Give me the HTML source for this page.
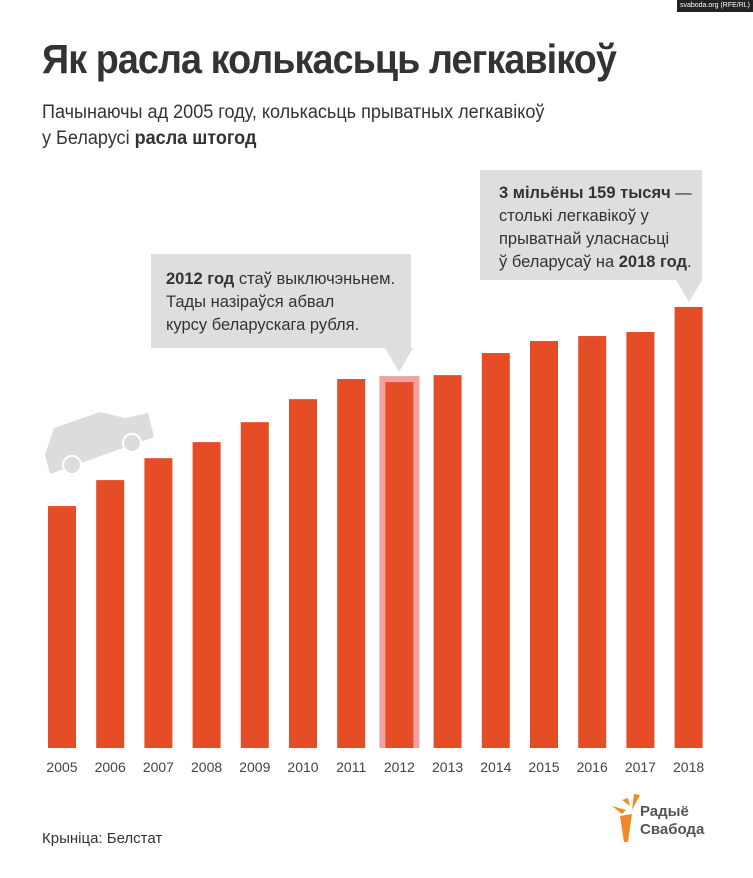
<!DOCTYPE html>
<html><head><meta charset="utf-8">
<style>
body{margin:0;width:753px;height:878px;background:#fff;font-family:"Liberation Sans",sans-serif;overflow:hidden;position:relative}
.abs{position:absolute}
</style></head><body>
<div class="abs" style="right:0;top:0;background:#222;color:#fff;font-size:7px;padding:1px 3px;height:10px;line-height:10px;white-space:nowrap">svaboda.org (RFE/RL)</div>
<div class="abs" style="left:42px;top:36px;font-size:41px;font-weight:bold;color:#333;letter-spacing:-1px;transform:scaleX(0.92);transform-origin:left;white-space:nowrap">Як расла колькасьць легкавікоў</div>
<div class="abs" style="left:42px;top:100px;font-size:19px;color:#333;line-height:26px;transform:scaleX(0.95);transform-origin:left;white-space:nowrap">Пачынаючы ад 2005 году, колькасьць прыватных легкавікоў<br>у Беларусі <b>расла штогод</b></div>
<svg class="abs" style="left:0;top:0" width="753" height="878" id="chart">
<g id="car" fill="#dcdcdc">
<polygon points="54,428 100,412 125,418 148,413 154,437 50,474 45,455"/>
<circle cx="72" cy="465" r="9" stroke="#fff" stroke-width="2"/>
<circle cx="132" cy="443" r="9" stroke="#fff" stroke-width="2"/>
</g>
<g id="bars"></g>
<g id="labels"></g>
<g font-size="16.5" fill="#333">
<rect x="151" y="254" width="260" height="94" fill="#dedede"/>
<polygon points="385,348 413,348 399,372" fill="#dedede"/>
<text x="166" y="284"><tspan font-weight="bold">2012 год</tspan> стаў выключэньнем.</text>
<text x="166" y="307">Тады назіраўся абвал</text>
<text x="166" y="330">курсу беларускага рубля.</text>
</g>
<g font-size="16.5" fill="#333">
<rect x="480" y="170" width="222" height="110" fill="#dedede"/>
<polygon points="676,280 702,280 689,302" fill="#dedede"/>
<text x="499" y="198" font-weight="bold">3 мільёны 159 тысяч <tspan font-weight="normal">—</tspan></text>
<text x="499" y="221">столькі легкавікоў у</text>
<text x="499" y="244">прыватнай уласнасьці</text>
<text x="499" y="267">ў беларусаў на <tspan font-weight="bold">2018 год</tspan>.</text>
</g>
<text x="42" y="843" font-size="15" fill="#333">Крыніца: Белстат</text>
<g>
<path d="M622,800 L628,798 L630,806 Z M612,806 L626,810 L622,814 Z M634,794 L640,795 L632,810 Z" fill="#f08a24"/>
<polygon points="620,816 632,814 628,842 624,842" fill="#f08a24"/>
<text x="640" y="816" font-size="15" font-weight="bold" fill="#555">Радыё</text>
<text x="640" y="834" font-size="15" font-weight="bold" fill="#555">Свабода</text>
</g>
</svg>
<script>
const years=['2005','2006','2007','2008','2009','2010','2011','2012','2013','2014','2015','2016','2017','2018'];
const values=[1733,1919,2076,2191,2334,2499,2643,2621,2671,2829,2915,2951,2980,3159];
const baseY=748, pxPer=441/3159, x0=62, step=48.2, bw=28;
const xs=i=>x0+i*step;
const ys=v=>baseY-v*pxPer;
const NS='http://www.w3.org/2000/svg';
const bars=document.getElementById('bars'), labels=document.getElementById('labels');
years.forEach((y,i)=>{
  const top=ys(values[i]);
  if(y==='2012'){
    const h=document.createElementNS(NS,'rect');
    h.setAttribute('x',xs(i)-bw/2-6);h.setAttribute('y',top-6);
    h.setAttribute('width',bw+12);h.setAttribute('height',baseY-top+6);
    h.setAttribute('fill','#f4a0a0');
    
    
    bars.appendChild(h);
  }
  const r=document.createElementNS(NS,'rect');
  r.setAttribute('x',xs(i)-bw/2);r.setAttribute('y',top);
  r.setAttribute('width',bw);r.setAttribute('height',baseY-top);
  r.setAttribute('fill','#e44d26');
  
  
  bars.appendChild(r);
  const t=document.createElementNS(NS,'text');
  t.setAttribute('x',xs(i));t.setAttribute('y',772);
  t.setAttribute('text-anchor','middle');t.setAttribute('font-size','14');t.setAttribute('fill','#444');
  t.textContent=y;
  
  
  labels.appendChild(t);
});
</script>
</body></html>
